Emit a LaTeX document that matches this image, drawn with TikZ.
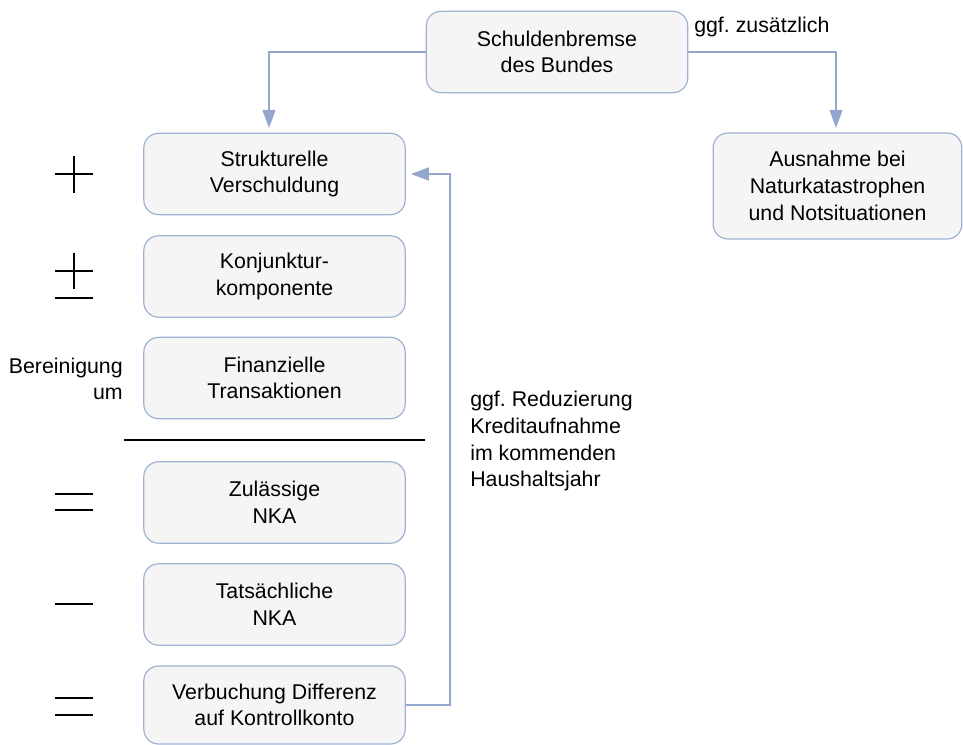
\documentclass[tikz,border=0pt]{standalone}
\usepackage{fontspec}
\setmainfont{Liberation Sans}
\usetikzlibrary{arrows.meta}
\definecolor{bordercol}{RGB}{160,178,212}
\definecolor{arrowcol}{RGB}{146,166,206}
\definecolor{boxfill}{RGB}{245,245,245}
\begin{document}
\frenchspacing
\begin{tikzpicture}[x=0.75pt,y=-0.75pt,
  every node/.style={font=\fontsize{16}{20}\selectfont},
  box/.style={draw=bordercol, fill=boxfill, line width=0.9pt, rounded corners=11pt,
    minimum width=196pt, minimum height=61pt, align=center, inner sep=0pt},
  arr/.style={draw=arrowcol, line width=1.7pt, shorten >=3.75pt,
    -{Triangle[length=13.5pt,width=9.5pt]}},
  sym/.style={line width=1.6pt, black},
  lbl/.style={align=left, inner sep=0pt}]
\useasboundingbox (0,0) rectangle (963,745);
\node[box] (top) at (557,52) {Schuldenbremse\\des Bundes};
\node[box] (s1) at (274.5,174) {Strukturelle\\Verschuldung};
\node[box] (s2) at (274.5,276.5) {Konjunktur-\\komponente};
\node[box] (s3) at (274.5,378) {Finanzielle\\Transaktionen};
\node[box] (s4) at (274.5,502.5) {Zulässige\\NKA};
\node[box] (s5) at (274.5,604.5) {Tatsächliche\\NKA};
\node[box, minimum height=58.5pt] (s6) at (274.5,705) {Verbuchung Differenz\\auf Kontrollkonto};
\node[box, minimum width=186.5pt, minimum height=79.5pt] (aus) at (837.5,186) {Ausnahme bei\\Naturkatastrophen\\und Notsituationen};
\coordinate (c1) at (269,133);
\coordinate (c2) at (836,133);
\draw[arr] (top.west) -| (c1);
\draw[arr] (top.east) -| (c2);
\draw[arr] (s6.east) -- ++(44,0) |- (s1.east);
\node[lbl, anchor=west] (zus) at (694,27) {ggf. zusätzlich};
\node[lbl, anchor=north west] (red) at (470,391) {ggf. Reduzierung\\Kreditaufnahme\\im kommenden\\Haushaltsjahr};
\node[align=right, anchor=east, inner sep=0pt] (ber) at (123,379) {Bereinigung\\um};
% symbols
\coordinate (p1) at (55,174); \coordinate (p2) at (93,174);
\coordinate (p3) at (74,156); \coordinate (p4) at (74,193);
\draw[sym] (p1) -- (p2); \draw[sym] (p3) -- (p4);
\coordinate (q1) at (55,271); \coordinate (q2) at (93,271);
\coordinate (q3) at (74,253); \coordinate (q4) at (74,289);
\coordinate (q5) at (55,298); \coordinate (q6) at (93,298);
\draw[sym] (q1) -- (q2); \draw[sym] (q3) -- (q4); \draw[sym] (q5) -- (q6);
\coordinate (l1) at (124,440); \coordinate (l2) at (425,440);
\draw[sym] (l1) -- (l2);
\coordinate (e1) at (55,494); \coordinate (e2) at (93,494);
\coordinate (e3) at (55,510); \coordinate (e4) at (93,510);
\draw[sym] (e1) -- (e2); \draw[sym] (e3) -- (e4);
\coordinate (m1) at (55,604); \coordinate (m2) at (93,604);
\draw[sym] (m1) -- (m2);
\coordinate (f1) at (55,698); \coordinate (f2) at (93,698);
\coordinate (f3) at (55,715); \coordinate (f4) at (93,715);
\draw[sym] (f1) -- (f2); \draw[sym] (f3) -- (f4);
\end{tikzpicture}
\end{document}
